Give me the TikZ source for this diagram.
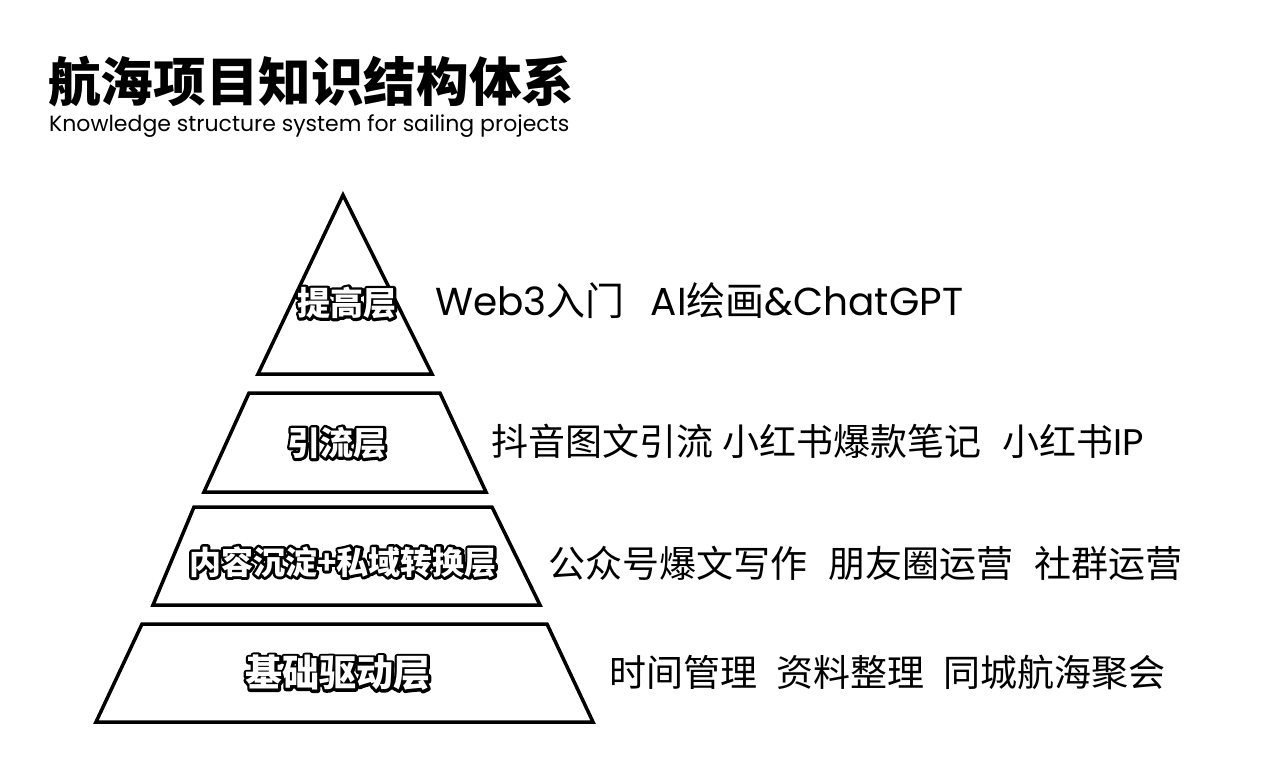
\documentclass[tikz,border=0pt]{standalone}
\usepackage{fontspec}
\setmainfont{Poppins}
\newfontfamily\cjk{Noto Sans CJK SC}
\usetikzlibrary{positioning}

\tikzset{
  layer/.style={draw=black, line width=3.5pt, line join=miter},
  item/.style={anchor=west, inner sep=0pt, font=\fontsize{37}{40}\selectfont},
  halo/.style={inner sep=0pt, text=black, font=\cjk\bfseries\fontsize{#1}{#1}\selectfont},
  tier/.style={inner sep=0pt, text=white, font=\cjk\bfseries\fontsize{#1}{#1}\selectfont},
}
% stroked copy of a text, for the black rim
\newcommand\rimtext[1]{%
  \special{pdf:literal direct 2 Tr 5.4 w 1 j 0 G}#1\special{pdf:literal direct 0 Tr 1 w}}
% white label with a black rim
\newcommand\tierlabel[4]{%
  \node[halo=#3] (#1 rim) at (#2) {\rimtext{#4}};
  \node[tier=#3] (#1) at (#2) {#4};}

\begin{document}
\begin{tikzpicture}[x=1pt, y=-1pt]
        \useasboundingbox (0, 0) rectangle (1280, 780);

        % heading
        \node[anchor=west, inner sep=0pt, font=\cjk\bfseries\fontsize{52.6}{53}\selectfont]
              (title) at (48, 82) {航海项目知识结构体系};
        \node[anchor=west, inner sep=0pt, font=\fontsize{22}{22}\selectfont]
              (subtitle) at (49, 126) {Knowledge structure system for sailing projects};

        % pyramid
        \draw[layer] (343, 195) -- (258, 374) -- (432, 374) -- cycle;
        \draw[layer] (249, 393) -- (440, 393) -- (486, 492) -- (204, 492) -- cycle;
        \draw[layer] (194, 507) -- (492, 507) -- (540, 605) -- (153, 605) -- cycle;
        \draw[layer] (142, 624) -- (547, 624) -- (593, 722) -- (96, 722) -- cycle;

        \tierlabel{top}{347, 303}{33}{提高层}
        \tierlabel{flow}{337, 443}{33}{引流层}
        \tierlabel{content}{343, 562}{32}{内容沉淀+私域转换层}
        \tierlabel{base}{338, 673}{37}{基础驱动层}

        % topics per layer
        \node[item, font=\fontsize{39}{42}\selectfont] (top topics) at (435, 301)
              {Web3{\cjk 入门}\hspace{26pt}AI{\cjk 绘画}\&ChatGPT};
        \node[item] (flow topics) at (491, 441)
              {\cjk 抖音图文引流\hspace{9pt}小红书爆款笔记\hspace{21pt}小红书{\rmfamily IP}};
        \node[item] (content topics) at (548, 563)
              {\cjk 公众号爆文写作\hspace{21pt}朋友圈运营\hspace{21pt}社群运营};
        \node[item] (base topics) at (609, 672)
              {\cjk 时间管理\hspace{19pt}资料整理\hspace{19pt}同城航海聚会};
\end{tikzpicture}
\end{document}
